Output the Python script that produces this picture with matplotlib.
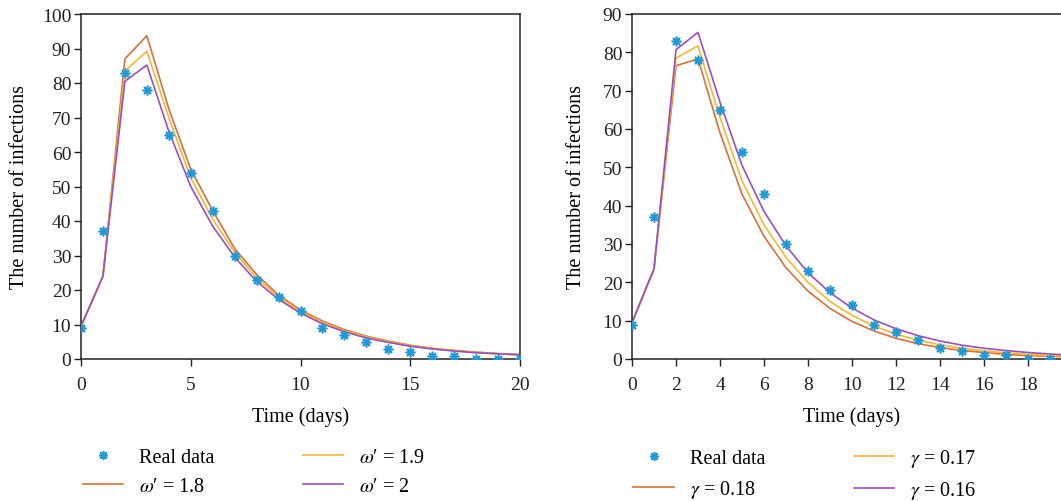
import numpy as np
import matplotlib
matplotlib.use('Agg')
import matplotlib.pyplot as plt

# --- data --------------------------------------------------------------------
days = list(range(21))
real_data = [9, 37, 83, 78, 65, 54, 43, 30, 23, 18, 14, 9, 7, 5, 3, 2, 1, 1, 0, 0, 0]

# left panel: varying omega'
omega_18 = [9.5, 24, 87, 93.7, 72.5, 55, 43, 32, 24.5, 18.5, 14.2, 11, 8.5, 6.6, 5.2, 4.0, 3.1, 2.5, 2.0, 1.6, 1.3]
omega_19 = [9.5, 24, 83.5, 89.2, 70, 52.5, 40.5, 31, 23.5, 18, 13.8, 10.6, 8.2, 6.4, 5.0, 3.9, 3.0, 2.4, 1.9, 1.5, 1.2]
omega_20 = [9.5, 24, 80.5, 85.2, 66, 50, 38.5, 29.5, 22.5, 17.3, 13.3, 10.2, 7.9, 6.1, 4.8, 3.7, 2.9, 2.3, 1.8, 1.5, 1.2]

# right panel: varying gamma
gamma_018 = [9.5, 23.5, 76.5, 78.3, 59, 43, 32, 23.8, 17.7, 13.2, 9.8, 7.3, 5.4, 4.0, 3.0, 2.2, 1.7, 1.2, 0.9, 0.7, 0.5]
gamma_017 = [9.5, 23.5, 78.5, 81.7, 63, 46.5, 35, 26.5, 20, 15, 11.4, 8.6, 6.5, 4.9, 3.7, 2.8, 2.1, 1.6, 1.2, 0.9, 0.7]
gamma_016 = [9.5, 23.5, 80.7, 85.2, 67, 50.5, 38.5, 29.5, 22.5, 17.3, 13.3, 10.2, 7.9, 6.1, 4.7, 3.6, 2.8, 2.2, 1.7, 1.3, 1.0]

# --- style -------------------------------------------------------------------
plt.rcParams['font.family'] = ['Liberation Serif', 'DejaVu Serif']
plt.rcParams['mathtext.fontset'] = 'stix'

c_real = '#1f9ad6'
c_orange = '#d9703a'
c_yellow = '#f5b835'
c_purple = '#9b4fbd'
asterisk = (8, 2, 0)

fig = plt.figure(figsize=(10.61, 5.02), dpi=100)
ax1 = fig.add_axes([81 / 1061, 142 / 502, 439 / 1061, 345 / 502])
ax2 = fig.add_axes([632 / 1061, 142 / 502, 440 / 1061, 345 / 502])


def draw(ax, series, labels, ymax, xticks, ylabelpad):
    ax.plot(days, real_data, linestyle='none', marker=asterisk, markersize=7,
            markeredgewidth=1.2, color=c_real, label='Real data', zorder=5)
    for vals, lab, col in zip(series, labels, [c_orange, c_yellow, c_purple]):
        ax.plot(days, vals, color=col, linewidth=1.2, label=lab)
    ax.set_xlim(0, 20)
    ax.set_ylim(0, ymax)
    ax.set_xticks(xticks)
    ax.set_yticks(np.arange(0, ymax + 1, 10))
    ax.tick_params(direction='out', length=5, width=1, colors='#222222', labelsize=14)
    ax.tick_params(axis='x', pad=7)
    ax.tick_params(axis='y', pad=2)
    for s in ax.spines.values():
        s.set_linewidth(1.1)
        s.set_color('#222222')
    ax.set_xlabel('Time (days)', fontsize=14.5, labelpad=10)
    ax.set_ylabel('The number of infections', fontsize=14.5, labelpad=ylabelpad)
    h, l = ax.get_legend_handles_labels()
    return h, l


h1, l1 = draw(ax1, [omega_18, omega_19, omega_20],
              ["$\\omega$\u2032 = 1.8", "$\\omega$\u2032 = 1.9", "$\\omega$\u2032 = 2"],
              100, [0, 5, 10, 15, 20], 9)
# the right panel runs past the image edge; its "20" label is not visible
h2, l2 = draw(ax2, [gamma_018, gamma_017, gamma_016],
              [r"$\gamma$ = 0.18", r"$\gamma$ = 0.17", r"$\gamma$ = 0.16"],
              90, list(range(0, 19, 2)), 12)

fig.legend(h1, l1, ncol=2, frameon=False, loc='center', bbox_to_anchor=(254 / 1061, 1 - 473 / 502),
           fontsize=14.5, handlelength=2.0, columnspacing=4.4, markerscale=0.9, labelspacing=0.5)
fig.legend(h2, l2, ncol=2, frameon=False, loc='center', bbox_to_anchor=(805 / 1061, 1 - 475 / 502),
           fontsize=14.5, handlelength=2.0, columnspacing=4.4, markerscale=0.9, labelspacing=0.5)

fig.savefig('out.png', dpi=100)
